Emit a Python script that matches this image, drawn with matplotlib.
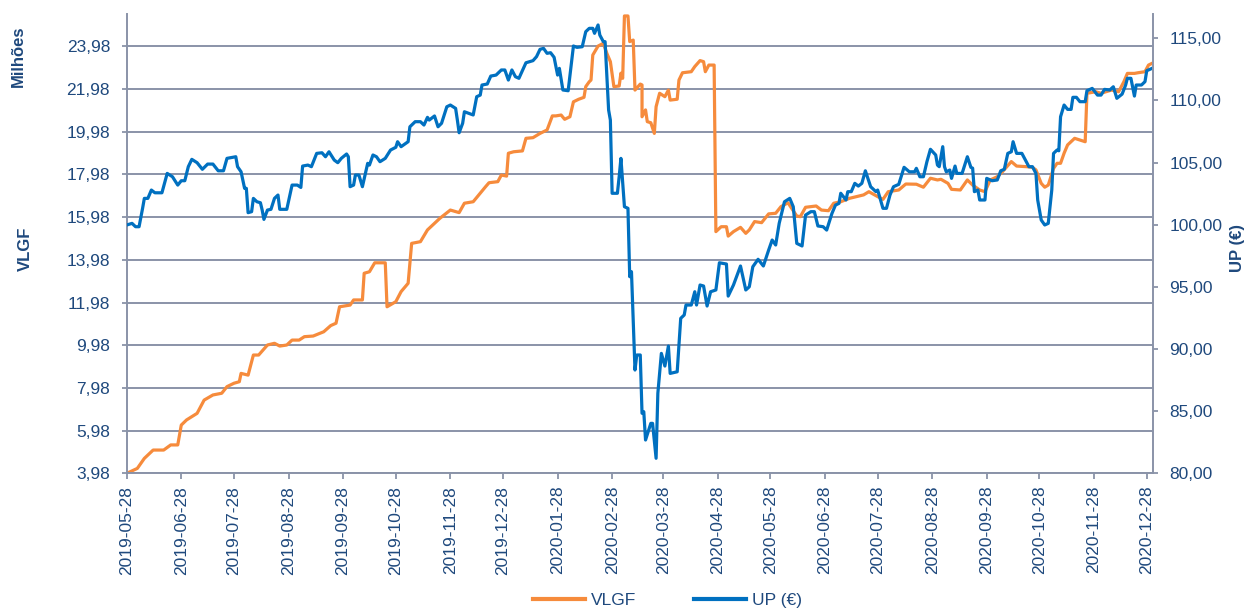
import matplotlib
matplotlib.use("Agg")
import matplotlib.pyplot as plt
import matplotlib.dates as mdates
from matplotlib.lines import Line2D
import pandas as pd

plt.rcParams['font.family'] = ['Liberation Sans', 'DejaVu Sans']

inicio = pd.Timestamp("2019-05-28")

# VLGF (milhoes) -- dias contados desde 2019-05-28
vlgf_dias = [0, 6, 10, 15, 21, 25, 29, 31, 34, 40, 44, 49, 54, 57, 61, 64, 65, 69, 72, 75,
             80, 84, 87, 91, 94, 98, 101, 106, 110, 112, 116, 119, 121, 127, 129, 134, 135, 138, 141, 147,
             148, 153, 156, 160, 162, 167, 171, 178, 184, 189, 192, 197, 204, 206, 211, 213, 216, 217, 220, 225,
             227, 231, 235, 239, 242, 244, 247, 249, 252, 254, 257, 260, 261, 263, 264, 265, 268, 271, 273, 275,
             277, 280, 281, 282, 283, 285, 286, 288, 289, 292, 293, 293, 295, 296, 298, 300, 301, 303, 306, 308,
             309, 313, 314, 316, 321, 323, 326, 328, 329, 331, 334, 335, 338, 341, 342, 345, 349, 352, 354, 357,
             361, 365, 369, 372, 376, 381, 383, 386, 392, 395, 399, 402, 406, 411, 419, 422, 427, 430, 433, 439,
             443, 449, 453, 457, 461, 463, 467, 469, 474, 478, 481, 485, 488, 491, 495, 498, 503, 506, 512, 515,
             517, 520, 522, 524, 527, 529, 531, 533, 535, 539, 545, 546, 551, 554, 560, 564, 567, 569, 573, 575,
             579, 581, 583]
vlgf_valor = [3.98, 4.21, 4.68, 5.07, 5.07, 5.31, 5.31, 6.24, 6.48, 6.79, 7.41, 7.65, 7.73, 8.04, 8.20, 8.27, 8.66, 8.58, 9.52, 9.52,
              9.99, 10.07, 9.94, 9.99, 10.22, 10.22, 10.38, 10.41, 10.54, 10.61, 10.90, 11.01, 11.78, 11.86, 12.10, 12.10, 13.35, 13.42, 13.84, 13.84,
              11.78, 12.02, 12.49, 12.88, 14.75, 14.83, 15.38, 15.92, 16.31, 16.19, 16.63, 16.70, 17.40, 17.59, 17.64, 17.95, 17.90, 18.97, 19.04, 19.08,
              19.67, 19.70, 19.90, 20.06, 20.72, 20.72, 20.76, 20.56, 20.68, 21.38, 21.50, 21.59, 22.09, 22.32, 22.40, 23.57, 23.99, 24.12, 23.65, 23.26,
              22.09, 22.12, 22.72, 22.48, 25.40, 25.40, 24.20, 24.27, 21.93, 22.21, 22.17, 20.68, 21.00, 20.45, 20.40, 19.90, 21.15, 21.78, 21.62, 21.93,
              21.46, 21.50, 22.40, 22.74, 22.79, 23.03, 23.31, 23.26, 22.79, 23.10, 23.10, 15.30, 15.53, 15.53, 15.09, 15.30, 15.50, 15.22, 15.38, 15.77,
              15.72, 16.13, 16.16, 16.47, 16.65, 16.03, 16.00, 16.44, 16.50, 16.31, 16.28, 16.63, 16.70, 16.86, 17.02, 17.17, 16.94, 16.81, 17.17, 17.25,
              17.53, 17.52, 17.38, 17.80, 17.72, 17.75, 17.56, 17.28, 17.25, 17.72, 17.48, 17.25, 17.17, 17.72, 17.87, 18.11, 18.58, 18.37, 18.34, 18.31,
              18.19, 17.56, 17.38, 17.48, 18.26, 18.50, 18.50, 18.97, 19.36, 19.67, 19.51, 21.78, 21.85, 21.78, 21.93, 21.85, 22.32, 22.71, 22.71, 22.74,
              22.79, 23.10, 23.18]

# UP (EUR) -- dias contados desde 2019-05-28
up_dias = [0, 3, 5, 7, 9, 10, 12, 14, 16, 20, 23, 26, 29, 31, 33, 35, 37, 40, 43, 46,
           49, 52, 55, 57, 62, 63, 65, 67, 68, 69, 71, 72, 74, 76, 77, 78, 80, 82, 84, 86,
           87, 91, 94, 97, 99, 100, 103, 105, 108, 111, 113, 115, 118, 120, 122, 125, 126, 127, 129, 130,
           132, 134, 137, 138, 140, 142, 144, 147, 150, 153, 154, 156, 160, 161, 164, 167, 169, 171, 172, 175,
           177, 179, 182, 184, 187, 188, 189, 191, 192, 197, 199, 201, 202, 205, 207, 210, 213, 215, 217, 219,
           221, 223, 227, 231, 233, 235, 237, 239, 241, 243, 245, 246, 248, 251, 254, 256, 259, 261, 263, 265,
           266, 268, 269, 271, 272, 274, 275, 276, 279, 280, 281, 283, 285, 286, 287, 289, 290, 292, 293, 294,
           295, 298, 299, 301, 302, 304, 306, 308, 309, 313, 315, 317, 318, 321, 323, 324, 326, 328, 330, 332,
           335, 337, 341, 342, 345, 349, 352, 354, 356, 359, 362, 365, 367, 369, 371, 374, 377, 379, 381, 384,
           386, 389, 391, 393, 396, 398, 401, 403, 405, 406, 409, 410, 412, 414, 416, 418, 420, 423, 426, 427,
           430, 432, 434, 436, 439, 442, 445, 448, 449, 451, 453, 455, 457, 460, 461, 462, 464, 465, 466, 468,
           469, 471, 472, 475, 478, 480, 481, 482, 484, 485, 488, 489, 492, 495, 497, 499, 501, 503, 504, 506,
           509, 511, 513, 515, 517, 518, 520, 522, 524, 526, 527, 529, 530, 531, 533, 535, 537, 538, 540, 542,
           545, 546, 549, 552, 554, 556, 559, 561, 563, 566, 568, 569, 571, 573, 574, 577, 579, 580, 583]
up_valor = [99.98, 100.11, 99.84, 99.84, 101.32, 102.12, 102.12, 102.79, 102.57, 102.57, 104.13, 103.86, 103.19, 103.54, 103.54, 104.67, 105.26, 104.99, 104.46, 104.88,
            104.88, 104.34, 104.34, 105.34, 105.47, 104.67, 104.26, 102.93, 102.93, 100.97, 101.05, 102.12, 101.85, 101.77, 101.18, 100.43, 101.18, 101.24, 102.12, 102.39,
            101.24, 101.24, 103.19, 103.19, 103.00, 104.72, 104.80, 104.67, 105.74, 105.79, 105.47, 105.87, 105.20, 104.99, 105.34, 105.69, 105.47, 103.06, 103.19, 104.00,
            104.00, 103.06, 104.94, 104.80, 105.61, 105.47, 105.07, 105.34, 106.01, 106.23, 106.68, 106.28, 106.68, 107.88, 108.29, 108.29, 108.02, 108.64, 108.42, 108.75,
            107.88, 108.16, 109.49, 109.63, 109.36, 108.42, 107.40, 108.16, 109.09, 108.83, 110.30, 110.43, 111.24, 111.32, 111.96, 112.04, 112.45, 112.45, 111.64, 112.45,
            111.91, 111.78, 113.03, 113.20, 113.52, 114.11, 114.19, 113.79, 113.84, 113.47, 112.04, 112.58, 110.84, 110.78, 114.38, 114.27, 114.32, 115.53, 115.80, 115.80,
            115.40, 116.07, 115.26, 114.73, 114.73, 109.23, 108.42, 102.53, 102.53, 103.86, 105.34, 101.45, 101.32, 95.82, 96.22, 88.31, 89.52, 89.52, 84.83, 84.96,
            82.68, 84.02, 84.02, 81.21, 86.44, 89.65, 88.63, 90.24, 88.04, 88.17, 92.47, 92.74, 93.54, 93.54, 94.61, 93.54, 95.15, 95.07, 93.46, 94.61,
            94.75, 96.94, 96.84, 94.26, 95.15, 96.68, 94.75, 95.01, 96.62, 97.22, 96.68, 97.96, 98.77, 98.37, 100.11, 101.85, 102.12, 101.45, 98.50, 98.29,
            100.78, 101.05, 101.05, 99.90, 99.84, 99.57, 100.91, 101.58, 101.72, 102.53, 101.99, 102.66, 102.66, 103.33, 103.11, 103.33, 104.34, 103.06, 102.66, 102.79,
            101.32, 101.32, 102.39, 103.06, 103.25, 104.62, 104.26, 104.26, 104.54, 103.86, 103.86, 105.07, 106.07, 105.61, 104.80, 104.67, 106.28, 104.67, 104.26, 104.40,
            103.73, 104.72, 104.13, 104.13, 105.47, 104.62, 104.55, 102.66, 102.79, 101.99, 101.99, 103.73, 103.54, 103.60, 104.34, 104.46, 105.74, 105.87, 106.68, 105.74,
            105.74, 105.20, 104.67, 104.67, 104.13, 101.99, 100.38, 99.98, 100.11, 102.79, 105.74, 106.01, 105.95, 108.69, 109.63, 109.28, 109.28, 110.25, 110.25, 109.90,
            109.90, 110.78, 110.97, 110.43, 110.43, 110.89, 110.84, 111.10, 110.17, 110.51, 111.24, 111.78, 111.78, 110.35, 111.24, 111.24, 111.51, 112.39, 112.58]

ticks_vlgf = [3.98, 5.98, 7.98, 9.98, 11.98, 13.98, 15.98, 17.98, 19.98, 21.98, 23.98]
ticks_up = [80, 85, 90, 95, 100, 105, 110, 115]
datas_ticks = pd.date_range("2019-05-28", "2020-12-28", freq=pd.DateOffset(months=1))

laranja = "#f68b3c"
azul = "#0070c0"
cinza = "#8a93a8"
texto = "#1f497d"

vlgf_datas = inicio + pd.to_timedelta(vlgf_dias, unit="D")
up_datas = inicio + pd.to_timedelta(up_dias, unit="D")

fig = plt.figure(figsize=(12.55, 6.08), dpi=100)
ax = fig.add_axes([0.101, 0.2215, 0.8175, 0.7554])
ax2 = ax.twinx()

ax.plot(vlgf_datas, vlgf_valor, color=laranja, lw=2.3, solid_joinstyle='round')
ax2.plot(up_datas, up_valor, color=azul, lw=2.3, solid_joinstyle='round')

ax.set_xlim(inicio, inicio + pd.Timedelta(days=583.4))
ax.set_ylim(3.98, 25.49)
ax2.set_ylim(80, 116.95)

ax.set_yticks(ticks_vlgf)
ax.set_yticklabels([f"{v:.2f}".replace(".", ",") for v in ticks_vlgf])
ax2.set_yticks(ticks_up)
ax2.set_yticklabels([f"{v:.2f}".replace(".", ",") for v in ticks_up])

ax.set_xticks(datas_ticks)
ax.xaxis.set_major_formatter(mdates.DateFormatter("%Y-%m-%d"))
ax.tick_params(axis='x', rotation=90, length=4.5, width=1.3, color=cinza,
               labelcolor=texto, labelsize=12.5, pad=4.5)
ax.tick_params(axis='y', length=3.5, width=1.3, color=cinza, labelcolor=texto,
               labelsize=12.5, pad=8.5)
ax2.tick_params(axis='y', length=3.5, width=1.3, color=cinza, labelcolor=texto,
                labelsize=12.5, pad=8.5)

ax.grid(axis='y', color=cinza, lw=1.4)
ax.set_axisbelow(True)

for s in ['top', 'right']:
    ax.spines[s].set_visible(False)
for s in ['left', 'bottom']:
    ax.spines[s].set_color(cinza)
    ax.spines[s].set_linewidth(1.4)
for s in ['top', 'left', 'bottom']:
    ax2.spines[s].set_visible(False)
ax2.spines['right'].set_color(cinza)
ax2.spines['right'].set_linewidth(1.4)

fig.text(0.0147, 0.9067, "Milhões", rotation=90, ha='center', va='center',
         fontsize=12, fontweight='bold', color=texto)
fig.text(0.0205, 0.5905, "VLGF", rotation=90, ha='center', va='center',
         fontsize=12, fontweight='bold', color=texto)
fig.text(0.9857, 0.5929, "UP (€)", rotation=90, ha='center', va='center',
         fontsize=12, fontweight='bold', color=texto)

handles = [Line2D([], [], color=laranja, lw=3), Line2D([], [], color=azul, lw=3)]
leg = fig.legend(handles, ["VLGF", "UP (€)"], loc='center', ncol=2, frameon=False,
                 bbox_to_anchor=(0.532, 0.012), fontsize=12.5, handlelength=3.0,
                 handletextpad=0.35, columnspacing=3.3)
for t in leg.get_texts():
    t.set_color(texto)

fig.savefig("out.png", dpi=100)
